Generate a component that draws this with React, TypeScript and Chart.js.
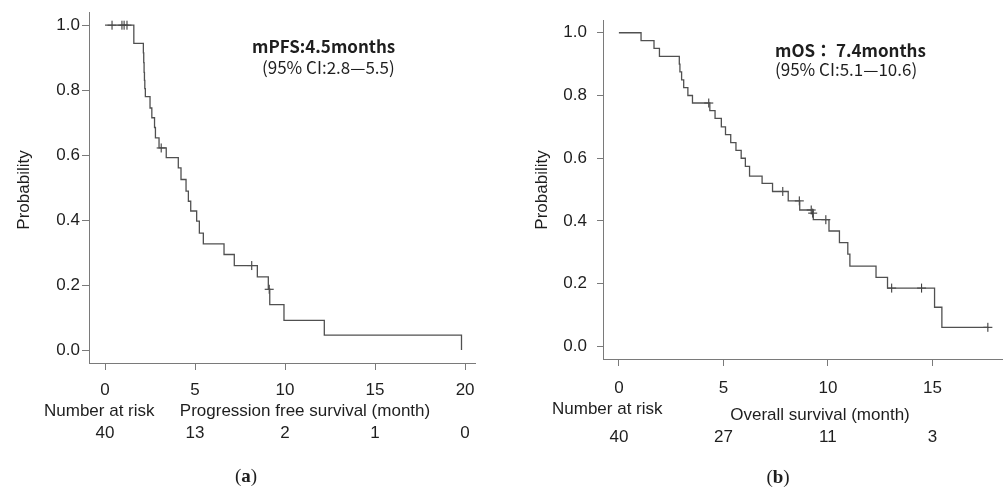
import React, { useEffect, useRef } from "react";
import { Chart, registerables } from "chart.js";

Chart.register(...registerables);

// ---------- Panel (a): progression-free survival ----------
const pfsEventTimes = [1.6, 2.13, 2.15, 2.17, 2.19, 2.21, 2.24, 2.5, 2.6, 2.75, 2.8, 3.0, 3.4, 4.07, 4.22, 4.5, 4.63, 4.76, 5.09, 5.24, 5.46, 6.61, 7.18, 8.46, 9.07, 9.15, 9.94, 12.18, 19.8];
const pfsSurvival = [0.944, 0.915, 0.885, 0.855, 0.83, 0.805, 0.78, 0.745, 0.715, 0.685, 0.653, 0.622, 0.592, 0.561, 0.525, 0.489, 0.458, 0.428, 0.397, 0.36, 0.327, 0.294, 0.26, 0.225, 0.187, 0.14, 0.091, 0.046, 0.0];
const pfsCensorTimes = [0.39, 0.94, 1.06, 1.22, 3.12, 8.15, 9.12];
const pfsCensorSurvival = [1, 1, 1, 1, 0.622, 0.26, 0.187];
const pfsLastFollowUp = 19.8;
const pfsXTicks = [0, 5, 10, 15, 20];
const pfsRiskTimes = [0, 5, 10, 15, 20];
const pfsRiskCounts = ["40", "13", "2", "1", "0"];
const pfsMedianLabel = "mPFS:4.5months";
const pfsCiLabel = "(95% CI:2.8\u20145.5)";
const pfsAxisTitle = "Progression free survival (month)";

// ---------- Panel (b): overall survival ----------
const osEventTimes = [1.06, 1.68, 1.94, 2.89, 2.92, 3.0, 3.1, 3.3, 3.52, 4.35, 4.6, 4.9, 5.1, 5.35, 5.6, 5.85, 6.05, 6.25, 6.85, 7.35, 8.1, 8.65, 9.3, 10.05, 10.55, 10.95, 11.05, 12.3, 12.85, 15.1, 15.45];
const osSurvival = [0.975, 0.95, 0.925, 0.9, 0.875, 0.85, 0.825, 0.8, 0.776, 0.752, 0.727, 0.7, 0.675, 0.65, 0.625, 0.6, 0.574, 0.543, 0.52, 0.494, 0.464, 0.435, 0.404, 0.368, 0.331, 0.294, 0.256, 0.22, 0.186, 0.125, 0.061];
const osCensorTimes = [4.3, 7.84, 8.63, 9.2, 9.27, 9.9, 13.05, 14.48, 17.65];
const osCensorSurvival = [0.776, 0.494, 0.464, 0.435, 0.425, 0.404, 0.186, 0.186, 0.061];
const osLastFollowUp = 17.65;
const osXTicks = [0, 5, 10, 15];
const osRiskTimes = [0, 5, 10, 15];
const osRiskCounts = ["40", "27", "11", "3"];
const osMedianLabel = "mOS\uFF1A 7.4months";
const osCiLabel = "(95% CI:5.1\u201410.6)";
const osAxisTitle = "Overall survival (month)";

// ---------- shared ----------
const probTicks = [0, 0.2, 0.4, 0.6, 0.8, 1.0];
const yAxisTitle = "Probability";
const riskHeader = "Number at risk";

const SANS = "'Liberation Sans', Arial, sans-serif";
const CJK = "'Noto Sans CJK JP', 'Noto Sans', sans-serif";
const SERIF = "'Liberation Serif', 'DejaVu Serif', serif";
const TEXT = "#1e1e1e";
const AXIS = "#7a7a7a";

type Layout = {
  canvasLeft: number;
  width: number;
  yWidth: number;
  pad: { top: number; right: number; bottom: number };
  xMin: number;
  xMax: number;
  tickLenY: number;
  tickPadY: number;
  tickPadX: number;
  yTitle: [number, number];
  med: [number, number];
  ci: [number, number];
  risk: [number, number];
  xTitle: [number, number];
  riskY: number;
  caption: [number, number];
};

type Panel = {
  events: number[];
  surv: number[];
  censT: number[];
  censS: number[];
  lastFollowUp: number;
  xTicks: number[];
  riskTimes: number[];
  riskCounts: string[];
  median: string;
  ci: string;
  xTitle: string;
  captionLetter: string;
  L: Layout;
};

function kmPoints(events: number[], surv: number[], last: number) {
  const pts = [{ x: 0, y: 1 }];
  events.forEach((t, i) => pts.push({ x: t, y: surv[i] }));
  const lastT = events[events.length - 1];
  if (last > lastT) pts.push({ x: last, y: surv[surv.length - 1] });
  return pts;
}

function makeTextPlugin(p: Panel) {
  return {
    id: "kmText",
    afterDraw(chart: any) {
      const ctx = chart.ctx as CanvasRenderingContext2D;
      const L = p.L;
      ctx.save();
      ctx.fillStyle = TEXT;
      ctx.textBaseline = "middle";

      // y title
      ctx.save();
      ctx.font = `17px ${SANS}`;
      ctx.textAlign = "center";
      ctx.translate(L.yTitle[0], L.yTitle[1]);
      ctx.rotate(-Math.PI / 2);
      ctx.fillText(yAxisTitle, 0, 0);
      ctx.restore();

      // median annotation
      ctx.textAlign = "left";
      ctx.font = `bold 17px ${CJK}`;
      ctx.fillText(p.median, L.med[0], L.med[1]);
      ctx.font = `17px ${CJK}`;
      ctx.fillText(p.ci, L.ci[0], L.ci[1]);

      // risk table
      ctx.font = `17px ${SANS}`;
      ctx.textAlign = "left";
      ctx.fillText(riskHeader, L.risk[0], L.risk[1]);
      ctx.textAlign = "center";
      ctx.fillText(p.xTitle, L.xTitle[0], L.xTitle[1]);
      const xs = chart.scales.x;
      p.riskTimes.forEach((t, i) => {
        ctx.fillText(p.riskCounts[i], xs.getPixelForValue(t), L.riskY);
      });

      // caption "(a)"
      ctx.font = `19px ${SERIF}`;
      const wOpen = ctx.measureText("(").width;
      const wClose = ctx.measureText(")").width;
      ctx.font = `bold 19px ${SERIF}`;
      const wLetter = ctx.measureText(p.captionLetter).width;
      const total = wOpen + wLetter + wClose;
      let cx = L.caption[0] - total / 2;
      ctx.textAlign = "left";
      ctx.font = `19px ${SERIF}`;
      ctx.fillText("(", cx, L.caption[1]);
      cx += wOpen;
      ctx.font = `bold 19px ${SERIF}`;
      ctx.fillText(p.captionLetter, cx, L.caption[1]);
      cx += wLetter;
      ctx.font = `19px ${SERIF}`;
      ctx.fillText(")", cx, L.caption[1]);
      ctx.restore();
    },
  };
}

function KMPanel({ p }: { p: Panel }) {
  const ref = useRef<HTMLCanvasElement | null>(null);
  useEffect(() => {
    if (!ref.current) return;
    const L = p.L;
    const chart = new Chart(ref.current, {
      type: "scatter",
      data: {
        datasets: [
          {
            data: kmPoints(p.events, p.surv, p.lastFollowUp),
            showLine: true,
            stepped: "before",
            borderColor: "#505050",
            borderWidth: 1.3,
            pointRadius: 0,
            fill: false,
          } as any,
          {
            data: p.censT.map((t, i) => ({ x: t, y: p.censS[i] })),
            showLine: false,
            pointStyle: "cross",
            pointRadius: 4.5,
            borderColor: "#2a2a2a",
            borderWidth: 1,
          } as any,
        ],
      },
      options: {
        responsive: false,
        animation: false,
        devicePixelRatio: 1,
        layout: { padding: { left: 0, top: L.pad.top, right: L.pad.right, bottom: L.pad.bottom } },
        plugins: { legend: { display: false }, tooltip: { enabled: false } },
        scales: {
          x: {
            type: "linear",
            min: L.xMin,
            max: L.xMax,
            afterBuildTicks: (s: any) => {
              s.ticks = p.xTicks.map((v) => ({ value: v }));
            },
            afterFit: (s: any) => {
              s.height = 40;
            },
            grid: { display: true, drawOnChartArea: false, drawTicks: true, tickLength: 7, color: AXIS },
            border: { display: true, color: AXIS, width: 1 },
            ticks: {
              color: TEXT,
              padding: L.tickPadX,
              font: { family: SANS, size: 17 },
              maxRotation: 0,
              callback: (v: any) => String(v),
            },
          },
          y: {
            type: "linear",
            min: -0.04,
            max: 1.04,
            afterBuildTicks: (s: any) => {
              s.ticks = probTicks.map((v) => ({ value: v }));
            },
            afterFit: (s: any) => {
              s.width = L.yWidth;
            },
            grid: { display: true, drawOnChartArea: false, drawTicks: true, tickLength: L.tickLenY, color: AXIS },
            border: { display: true, color: AXIS, width: 1 },
            ticks: {
              color: TEXT,
              padding: L.tickPadY,
              font: { family: SANS, size: 17 },
              callback: (v: any) => Number(v).toFixed(1),
            },
          },
        },
      } as any,
      plugins: [makeTextPlugin(p)],
    });
    return () => chart.destroy();
  }, [p]);
  return (
    <canvas
      ref={ref}
      width={p.L.width}
      height={492}
      style={{ position: "absolute", left: p.L.canvasLeft, top: 0, width: p.L.width, height: 492 }}
    />
  );
}

const pfsPanel: Panel = {
  events: pfsEventTimes,
  surv: pfsSurvival,
  censT: pfsCensorTimes,
  censS: pfsCensorSurvival,
  lastFollowUp: pfsLastFollowUp,
  xTicks: pfsXTicks,
  riskTimes: pfsRiskTimes,
  riskCounts: pfsRiskCounts,
  median: pfsMedianLabel,
  ci: pfsCiLabel,
  xTitle: pfsAxisTitle,
  captionLetter: "a",
  L: {
    canvasLeft: 0,
    width: 500,
    yWidth: 89,
    pad: { top: 12, right: 25, bottom: 89 },
    xMin: -0.89,
    xMax: 20.55,
    tickLenY: 7,
    tickPadY: 2,
    tickPadX: 10,
    yTitle: [24, 190],
    med: [252, 47],
    ci: [262, 68],
    risk: [44, 411],
    xTitle: [305, 411],
    riskY: 433,
    caption: [246, 477],
  },
};

const osPanel: Panel = {
  events: osEventTimes,
  surv: osSurvival,
  censT: osCensorTimes,
  censS: osCensorSurvival,
  lastFollowUp: osLastFollowUp,
  xTicks: osXTicks,
  riskTimes: osRiskTimes,
  riskCounts: osRiskCounts,
  median: osMedianLabel,
  ci: osCiLabel,
  xTitle: osAxisTitle,
  captionLetter: "b",
  L: {
    canvasLeft: 500,
    width: 508,
    yWidth: 103,
    pad: { top: 8, right: 4, bottom: 93 },
    xMin: -0.76,
    xMax: 18.35,
    tickLenY: 6,
    tickPadY: 10,
    tickPadX: 12,
    yTitle: [42, 190],
    med: [275, 51],
    ci: [275, 70],
    risk: [52, 409],
    xTitle: [320, 415],
    riskY: 437,
    caption: [278, 478],
  },
};

export default function App() {
  return (
    <div style={{ position: "absolute", left: 0, top: 0, width: 1008, height: 492, background: "#fff", overflow: "hidden" }}>
      <KMPanel p={pfsPanel} />
      <KMPanel p={osPanel} />
    </div>
  );
}
